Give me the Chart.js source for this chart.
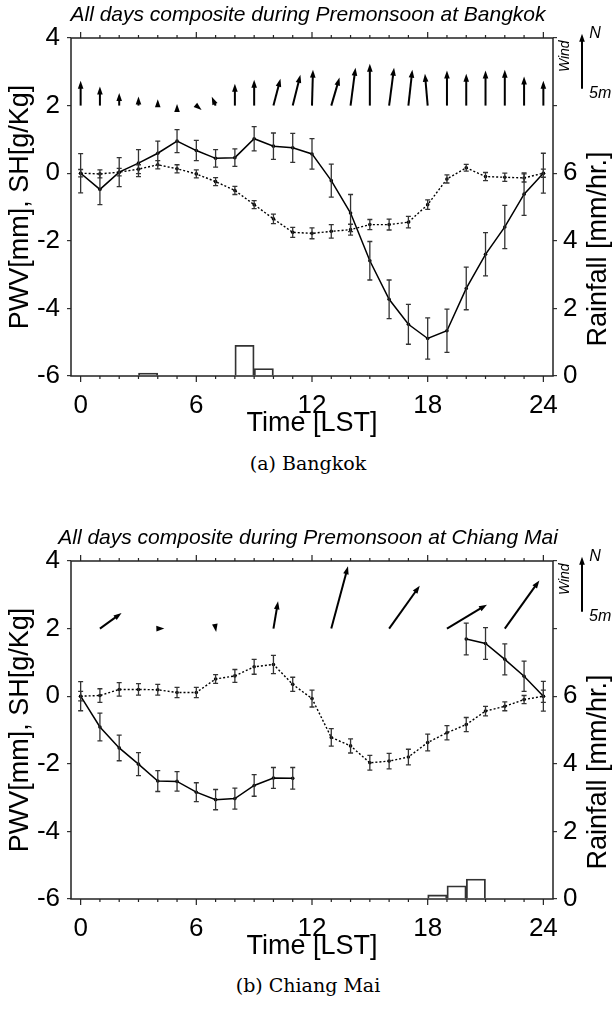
<!DOCTYPE html>
<html lang="en">
<head>
<meta charset="UTF-8">
<title>Premonsoon composites</title>
<style>
  body { margin: 0; background: #fff; }
  canvas { position: absolute; left: 0; }
  .cap { position: absolute; left: 0; width: 616px; text-align: center;
         font: 19px "DejaVu Serif", serif; line-height: 24px; color: #000; }
</style>
</head>
<body>
<canvas id="bkk" width="616" height="440" style="top:0"></canvas>
<div class="cap" style="top:451px">(a) Bangkok</div>
<canvas id="cmi" width="616" height="440" style="top:523px"></canvas>
<div class="cap" style="top:973px">(b) Chiang Mai</div>

<script src="https://cdn.jsdelivr.net/npm/chart.js"></script>
<script>
// hours of the day and hourly rainfall bins (centre of each hour)
const hours = [0,1,2,3,4,5,6,7,8,9,10,11,12,13,14,15,16,17,18,19,20,21,22,23,24];
const rainBins = [0.5,1.5,2.5,3.5,4.5,5.5,6.5,7.5,8.5,9.5,10.5,11.5,12.5,13.5,14.5,15.5,16.5,17.5,18.5,19.5,20.5,21.5,22.5,23.5];
const yTicksLeft = [-6,-4,-2,0,2,4];
const rainLabels = [0,2,4,6];

// Bangkok
const bkkPwv    = [0,-0.48,0.03,0.30,0.59,0.95,0.67,0.44,0.46,1.02,0.80,0.75,0.57,-0.22,-1.18,-2.59,-3.73,-4.47,-4.89,-4.66,-3.41,-2.40,-1.59,-0.62,0];
const bkkPwvErr = [0.58,0.45,0.43,0.40,0.36,0.34,0.30,0.26,0.26,0.36,0.39,0.43,0.45,0.49,0.55,0.57,0.57,0.59,0.61,0.64,0.63,0.64,0.64,0.63,0.59];
const bkkSh     = [0,-0.02,0.03,0.12,0.25,0.13,-0.02,-0.25,-0.51,-0.93,-1.35,-1.75,-1.78,-1.72,-1.67,-1.52,-1.52,-1.45,-0.93,-0.17,0.16,-0.10,-0.12,-0.14,0];
const bkkShErr  = [0.11,0.12,0.11,0.13,0.12,0.12,0.12,0.12,0.12,0.12,0.14,0.15,0.16,0.20,0.16,0.15,0.16,0.17,0.14,0.12,0.10,0.12,0.12,0.12,0.12];
const bkkRain   = [0,0,0,0.09,0,0,0,0,0.91,0.22,0,0,0,0,0,0,0,0,0,0,0,0,0,0];
const bkkWindU  = [0,0,0,0,0,0,0.48,-0.35,0,0,0.64,0.70,0.09,0.75,0.45,0,0.45,0.36,-0.25,0,0,0,0,0,0];
const bkkWindV  = [2.27,1.73,1.15,0.82,0.57,0.15,-0.39,0.80,2.00,2.36,2.45,2.80,3.27,2.55,3.45,3.80,3.45,3.27,2.90,3.20,2.90,3.20,3.27,2.64,2.27];

// Chiang Mai
const cmiPwv    = [0,-0.91,-1.53,-2.01,-2.51,-2.52,-2.84,-3.06,-3.03,-2.64,-2.42,-2.43,null,null,null,null,null,null,null,null,1.69,1.56,1.09,0.59,0];
const cmiPwvErr = [0.43,0.41,0.38,0.34,0.31,0.29,0.28,0.30,0.31,0.32,0.31,0.32,null,null,null,null,null,null,null,null,0.47,0.47,0.46,0.45,0.44];
const cmiSh     = [0,0.02,0.20,0.20,0.19,0.11,0.11,0.51,0.60,0.87,0.94,0.35,-0.07,-1.22,-1.47,-1.97,-1.92,-1.80,-1.37,-1.08,-0.84,-0.44,-0.30,-0.10,0];
const cmiShErr  = [0.14,0.20,0.20,0.17,0.16,0.15,0.15,0.13,0.19,0.22,0.27,0.21,0.25,0.26,0.21,0.22,0.23,0.23,0.25,0.21,0.21,0.14,0.13,0.12,0.18];
const cmiRain   = [0,0,0,0,0,0,0,0,0,0,0,0,0,0,0,0,0,0,0.12,0.39,0.59,0,0,0];
const cmiWindU  = [null,1.97,null,null,0.60,null,null,0.05,null,null,0.42,null,null,1.52,null,null,2.79,null,null,3.64,null,null,3.15,null,null];
const cmiWindV  = [null,1.42,null,null,0.02,null,null,-0.30,null,null,2.48,null,null,5.67,null,null,3.91,null,null,2.18,null,null,4.39,null,null];

const WIND_BASE = 2;      // arrows start at PWV = 2
const WIND_SCALE = 0.325; // y units per m/s
const WIND_KEY = 5;       // m/s shown in key
const SANS = '"Liberation Sans", Arial, sans-serif';

function arrow(ctx, x0, y0, x1, y1) {
  const a = Math.atan2(y1 - y0, x1 - x0);
  const len = Math.hypot(x1 - x0, y1 - y0);
  const c = Math.cos(a), s = Math.sin(a);
  if (len > 5) {
    ctx.beginPath();
    ctx.moveTo(x0, y0);
    ctx.lineTo(x1 - 5 * c, y1 - 5 * s);
    ctx.stroke();
  }
  ctx.beginPath();
  ctx.moveTo(x1, y1);
  ctx.lineTo(x1 - 8 * c + 2.8 * s, y1 - 8 * s - 2.8 * c);
  ctx.lineTo(x1 - 8 * c - 2.8 * s, y1 - 8 * s + 2.8 * c);
  ctx.closePath();
  ctx.fill();
}

const extras = {
  id: 'extras',
  afterDatasetsDraw(chart, args, opts) {
    const ctx = chart.ctx, area = chart.chartArea;
    const x = chart.scales.x, y = chart.scales.y;
    ctx.save();

    // error bars
    ctx.strokeStyle = '#333';
    ctx.lineWidth = 1.3;
    chart.data.datasets.forEach(ds => {
      if (!ds.err) return;
      ds.err.forEach((e, i) => {
        const v = ds.data[i].y;
        if (v === null || e === null) return;
        const px = x.getPixelForValue(ds.data[i].x);
        const top = y.getPixelForValue(v + e), bot = y.getPixelForValue(v - e);
        ctx.beginPath();
        ctx.moveTo(px, top); ctx.lineTo(px, bot);
        ctx.moveTo(px - 2.5, top); ctx.lineTo(px + 2.5, top);
        ctx.moveTo(px - 2.5, bot); ctx.lineTo(px + 2.5, bot);
        ctx.stroke();
      });
    });

    // wind arrows
    const ppu = y.getPixelForValue(0) - y.getPixelForValue(1);
    const k = WIND_SCALE * ppu;
    ctx.strokeStyle = '#000';
    ctx.fillStyle = '#000';
    ctx.lineWidth = 2;
    const by = y.getPixelForValue(WIND_BASE);
    opts.u.forEach((u, i) => {
      if (u === null) return;
      const bx = x.getPixelForValue(hours[i]);
      arrow(ctx, bx, by, bx + u * k, by - opts.v[i] * k);
    });

    // wind key
    const kx = area.right + 29;
    const kb = y.getPixelForValue(2.5);
    const kt = kb - WIND_KEY * k;
    arrow(ctx, kx, kb, kx, kt);
    ctx.font = 'italic 16px ' + SANS;
    ctx.textAlign = 'center';
    ctx.textBaseline = 'middle';
    ctx.fillText('N', kx + 13, kt);
    ctx.textAlign = 'left';
    ctx.fillText('5m', kx + 7, kb + 5);
    ctx.save();
    ctx.translate(kx - 17, (kt + kb) / 2 - 5);
    ctx.rotate(-Math.PI / 2);
    ctx.textAlign = 'center';
    ctx.font = 'italic 14px ' + SANS;
    ctx.fillText('Wind', 0, 0);
    ctx.restore();

    // frame and hour ticks
    ctx.strokeStyle = '#222';
    ctx.lineWidth = 1.5;
    ctx.strokeRect(area.left, area.top, area.right - area.left, area.bottom - area.top);
    ctx.lineWidth = 1.2;
    hours.forEach(h => {
      const px = x.getPixelForValue(h);
      const len = h % 6 === 0 ? 6 : 3;
      ctx.beginPath();
      ctx.moveTo(px, area.bottom); ctx.lineTo(px, area.bottom + len);
      ctx.moveTo(px, area.top); ctx.lineTo(px, area.top - len);
      ctx.stroke();
    });

    // right axis title (reads bottom to top)
    ctx.save();
    ctx.translate(599, (area.top + area.bottom) / 2 + 42);
    ctx.rotate(-Math.PI / 2);
    ctx.font = '27px ' + SANS;
    ctx.fillStyle = '#000';
    ctx.textAlign = 'center';
    ctx.textBaseline = 'middle';
    ctx.fillText('Rainfall [mm/hr.]', 0, 0);
    ctx.restore();

    ctx.restore();
  }
};

function makePanel(id, title, pwv, pwvErr, sh, shErr, rain, windU, windV) {
  new Chart(document.getElementById(id), {
    type: 'line',
    data: {
      datasets: [
        {
          type: 'bar',
          data: rainBins.map((h, i) => ({ x: h, y: rain[i] })),
          yAxisID: 'yR',
          backgroundColor: 'rgba(0,0,0,0)',
          borderColor: '#333',
          borderWidth: 1.2,
          barPercentage: 1,
          categoryPercentage: 1,
          order: 3
        },
        {
          data: hours.map((h, i) => ({ x: h, y: sh[i] })),
          err: shErr,
          yAxisID: 'y',
          borderColor: '#000',
          borderWidth: 1.4,
          borderDash: [2, 2],
          pointRadius: 1.8,
          pointBackgroundColor: '#000',
          pointBorderWidth: 0,
          order: 2
        },
        {
          data: hours.map((h, i) => ({ x: h, y: pwv[i] })),
          err: pwvErr,
          yAxisID: 'y',
          borderColor: '#000',
          borderWidth: 1.5,
          pointRadius: 1.8,
          pointBackgroundColor: '#000',
          pointBorderWidth: 0,
          spanGaps: false,
          order: 1
        }
      ]
    },
    options: {
      responsive: false,
      animation: false,
      layout: { padding: 0 },
      plugins: {
        legend: { display: false },
        tooltip: { enabled: false },
        title: {
          display: true,
          text: title,
          color: '#000',
          font: { family: SANS, size: 21, style: 'italic', weight: 'normal' },
          padding: { top: 3, bottom: 9.8 }
        },
        extras: { u: windU, v: windV }
      },
      scales: {
        x: {
          type: 'linear',
          min: -0.5,
          max: 24.5,
          offset: false,
          grid: { display: false },
          border: { display: false },
          ticks: {
            stepSize: 6,
            includeBounds: false,
            padding: 6,
            color: '#000',
            font: { family: SANS, size: 26 }
          },
          title: {
            display: true,
            text: 'Time [LST]',
            color: '#000',
            font: { family: SANS, size: 27 },
            padding: { top: 0, bottom: 0 }
          },
          afterFit(scale) { scale.height = 64; }
        },
        y: {
          position: 'left',
          min: -6,
          max: 4,
          afterBuildTicks(scale) { scale.ticks = yTicksLeft.map(v => ({ value: v })); },
          grid: { drawOnChartArea: false, tickLength: 4, color: '#333', lineWidth: 1.2 },
          border: { display: false },
          ticks: {
            padding: 7,
            color: '#000',
            font: { family: SANS, size: 26 }
          },
          title: {
            display: true,
            text: 'PWV[mm], SH[g/Kg]',
            color: '#000',
            font: { family: SANS, size: 27 },
            padding: { top: 4, bottom: 0 }
          },
          afterFit(scale) { scale.width = 71; }
        },
        yR: {
          position: 'right',
          min: 0,
          max: 10,
          grid: { drawOnChartArea: false, tickLength: 4, color: '#333', lineWidth: 1.2 },
          border: { display: false },
          ticks: {
            stepSize: 2,
            padding: 6,
            color: '#000',
            font: { family: SANS, size: 26 },
            callback: v => rainLabels.includes(v) ? String(v) : ''
          },
          afterFit(scale) { scale.width = 63; }
        }
      }
    },
    plugins: [extras]
  });
}

makePanel('bkk', 'All days composite during Premonsoon at Bangkok',
  bkkPwv, bkkPwvErr, bkkSh, bkkShErr, bkkRain, bkkWindU, bkkWindV);
makePanel('cmi', 'All days composite during Premonsoon at Chiang Mai',
  cmiPwv, cmiPwvErr, cmiSh, cmiShErr, cmiRain, cmiWindU, cmiWindV);
</script>
</body>
</html>
